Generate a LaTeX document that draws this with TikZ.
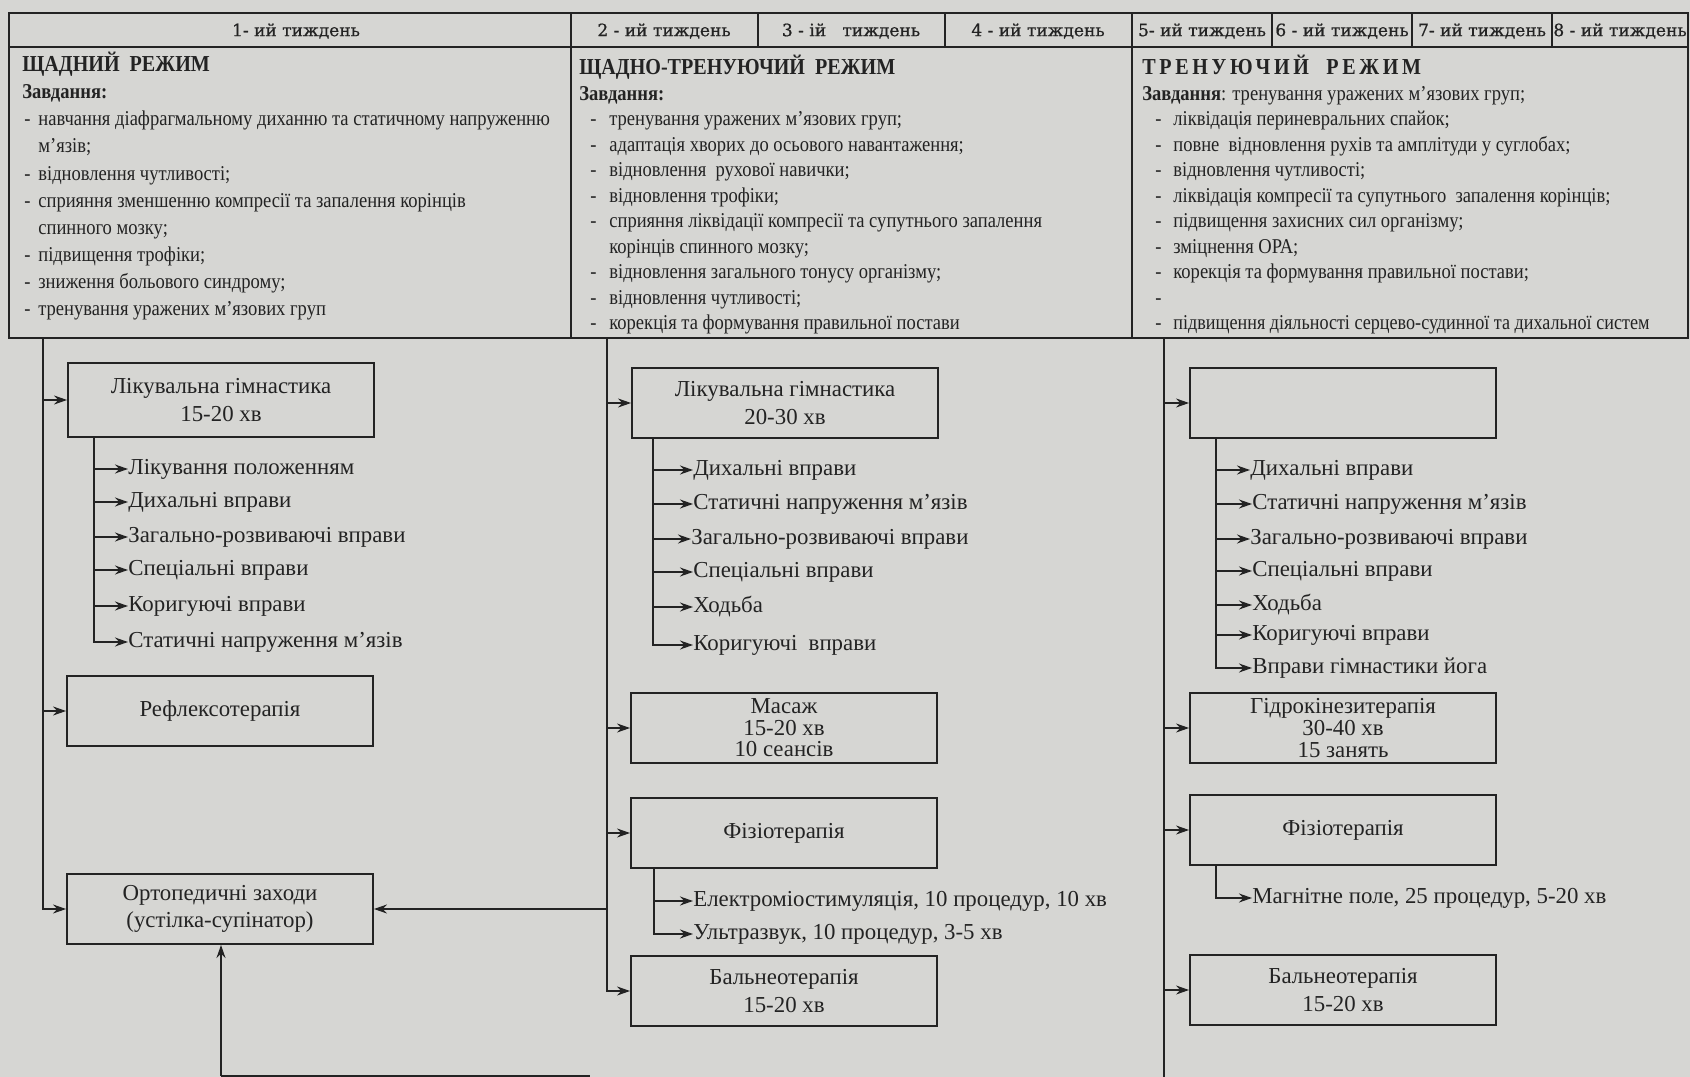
\documentclass[tikz,border=0pt]{standalone}
\usepackage{fontspec}
\setmainfont{Liberation Serif}
\newfontfamily\weekfont[FakeBold=0.8]{DejaVu Serif}
\newfontfamily\taskserif[FakeStretch=0.88]{Liberation Serif}
\usepackage{tikz}
\usetikzlibrary{arrows.meta}
\usetikzlibrary{positioning}

\definecolor{paper}{RGB}{214,214,211}
\definecolor{ink}{RGB}{35,35,35}

\newcommand{\procfont}{\fontsize{13}{16.4}\selectfont}
\newcommand{\tdash}[2]{\hspace*{#1}\makebox[#2][l]{-}}

\begin{document}
\begin{tikzpicture}[x=0.02cm, y=-0.02cm, color=ink,
    tableline/.style={line width=1.6pt},
    weekcell/.style={font=\weekfont\fontsize{9.7}{11}\selectfont, inner sep=0pt},
    tasktext/.style={anchor=north west, inner sep=0pt, align=left},
    procbox/.style={draw, line width=1.1pt, minimum width=6.12cm, minimum height=1.4cm,
                    align=center, font=\procfont},
    tightbox/.style={procbox, font=\fontsize{13}{12.3}\selectfont},
    itemnode/.style={anchor=west, inner sep=0pt, font=\procfont}]

	\fill[paper] (0,0) rectangle (1690,1077);
	\useasboundingbox (0,0) rectangle (1690,1077);

	% table frame
	\draw[tableline] (9,13) rectangle (1688,338);
	\draw[tableline] (9,47) -- (1688,47);
	\draw[tableline] (571,13) -- (571,338);
	\draw[tableline] (1132,13) -- (1132,338);
	\draw[line width=1.2pt] (758,13) -- (758,47);
	\draw[line width=1.2pt] (945,13) -- (945,47);
	\draw[line width=1.2pt] (1272,13) -- (1272,47);
	\draw[line width=1.2pt] (1412,13) -- (1412,47);
	\draw[line width=1.2pt] (1552,13) -- (1552,47);

	\begin{scope}[every node/.style={weekcell}]
		\node (wk1) at (296,31) {1- ий\ тиждень};
		\node (wk2) at (664,31) {2 - ий тиждень};
		\node (wk3) at (851,31) {3 - ій\ \ \ тиждень};
		\node (wk4) at (1038,31) {4 - ий тиждень};
		\node (wk5) at (1202,31) {5- ий тиждень};
		\node (wk6) at (1342,31) {6 - ий тиждень};
		\node (wk7) at (1482,31) {7- ий тиждень};
		\node (wk8) at (1620,31) {8 - ий тиждень};
	\end{scope}

	% tasks of the three regimes
	\node[tasktext, font=\taskserif\fontsize{12}{15.4}\selectfont] (task1) at (22,52) {%
		{\bfseries\fontsize{13}{15.4}\selectfont ЩАДНИЙ\ \ РЕЖИМ}\\
		\textbf{Завдання:}\\
		\tdash{0.04cm}{0.28cm}навчання діафрагмальному диханню та статичному напруженню\\
		\hspace*{0.32cm}м’язів;\\
		\tdash{0.04cm}{0.28cm}відновлення чутливості;\\
		\tdash{0.04cm}{0.28cm}сприяння зменшенню компресії та запалення корінців\\
		\hspace*{0.32cm}спинного мозку;\\
		\tdash{0.04cm}{0.28cm}підвищення трофіки;\\
		\tdash{0.04cm}{0.28cm}зниження больового синдрому;\\
		\tdash{0.04cm}{0.28cm}тренування уражених м’язових груп};

	\node[tasktext, font=\taskserif\fontsize{12}{14.5}\selectfont] (task2) at (579,55) {%
		{\bfseries\fontsize{13}{14.5}\selectfont ЩАДНО-ТРЕНУЮЧИЙ\ \ РЕЖИМ}\\
		\textbf{Завдання:}\\
		\tdash{0.22cm}{0.38cm}тренування уражених м’язових груп;\\
		\tdash{0.22cm}{0.38cm}адаптація хворих до осьового навантаження;\\
		\tdash{0.22cm}{0.38cm}відновлення\ \ рухової навички;\\
		\tdash{0.22cm}{0.38cm}відновлення трофіки;\\
		\tdash{0.22cm}{0.38cm}сприяння ліквідації компресії та супутнього запалення\\
		\hspace*{0.6cm}корінців спинного мозку;\\
		\tdash{0.22cm}{0.38cm}відновлення загального тонусу організму;\\
		\tdash{0.22cm}{0.38cm}відновлення чутливості;\\
		\tdash{0.22cm}{0.38cm}корекція та формування правильної постави};

	\node[tasktext, font=\taskserif\fontsize{12}{14.5}\selectfont] (task3) at (1142,55) {%
		{\bfseries\fontsize{13}{14.5}\selectfont\addfontfeature{LetterSpace=16}ТРЕНУЮЧИЙ\ \ РЕЖИМ}\\
		\textbf{Завдання}: тренування уражених м’язових груп;\\
		\tdash{0.26cm}{0.36cm}ліквідація периневральних спайок;\\
		\tdash{0.26cm}{0.36cm}повне\ \ відновлення рухів та амплітуди у суглобах;\\
		\tdash{0.26cm}{0.36cm}відновлення чутливості;\\
		\tdash{0.26cm}{0.36cm}ліквідація компресії та супутнього\ \ запалення корінців;\\
		\tdash{0.26cm}{0.36cm}підвищення захисних сил організму;\\
		\tdash{0.26cm}{0.36cm}зміцнення ОРА;\\
		\tdash{0.26cm}{0.36cm}корекція та формування правильної постави;\\
		\tdash{0.26cm}{0.36cm}\\
		\tdash{0.26cm}{0.36cm}{\addfontfeature{FakeStretch=0.86}підвищення діяльності серцево-судинної та дихальної систем}};

	% first week
	\coordinate (m1top) at (43,338);
	\node[procbox, minimum height=1.48cm] (lg1) at (221,400) {Лікувальна гімнастика\\15-20 хв};
	\coordinate (s1) at (94,437);
	\node[itemnode] (i11) at (128,469) {Лікування положенням};
	\node[itemnode] (i12) at (128,502) {Дихальні вправи};
	\node[itemnode] (i13) at (128,537) {Загально-розвиваючі вправи};
	\node[itemnode] (i14) at (128,570) {Спеціальні вправи};
	\node[itemnode] (i15) at (128,606) {Коригуючі вправи};
	\node[itemnode] (i16) at (128,642) {Статичні напруження м’язів};
	\node[procbox] (refl) at (220,711) {Рефлексотерапія};
	\node[procbox, font=\fontsize{13}{15.3}\selectfont] (orto) at (220,909) {Ортопедичні заходи\\(устілка-супінатор)};
	\coordinate (orbot) at (221,1076);

	% weeks 2-4
	\coordinate (m2top) at (607,338);
	\node[procbox] (lg2) at (785,403) {Лікувальна гімнастика\\20-30 хв};
	\coordinate (s2) at (653,438);
	\node[itemnode] (i21) at (693,470) {Дихальні вправи};
	\node[itemnode] (i22) at (693,504) {Статичні напруження м’язів};
	\node[itemnode] (i23) at (691,539) {Загально-розвиваючі вправи};
	\node[itemnode] (i24) at (693,572) {Спеціальні вправи};
	\node[itemnode] (i25) at (693,607) {Ходьба};
	\node[itemnode] (i26) at (693,645) {Коригуючі\ \ вправи};
	\node[tightbox] (mas2) at (784,728) {Масаж\\15-20 хв\\10 сеансів};
	\node[procbox] (fiz2) at (784,833) {Фізіотерапія};
	\coordinate (f2) at (654,868);
	\node[itemnode] (e21) at (693,901) {Електроміостимуляція, 10 процедур, 10 хв};
	\node[itemnode] (e22) at (693,934) {Ультразвук, 10 процедур, 3-5 хв};
	\node[procbox] (bal2) at (784,991) {Бальнеотерапія\\15-20 хв};

	% weeks 5-8
	\coordinate (m3top) at (1164,338);
	\coordinate (m3bot) at (1164,1077);
	\node[procbox] (lg3) at (1343,403) {};
	\coordinate (s3) at (1216,438);
	\node[itemnode] (i31) at (1250,470) {Дихальні вправи};
	\node[itemnode] (i32) at (1252,504) {Статичні напруження м’язів};
	\node[itemnode] (i33) at (1250,539) {Загально-розвиваючі вправи};
	\node[itemnode] (i34) at (1252,571) {Спеціальні вправи};
	\node[itemnode] (i35) at (1252,605) {Ходьба};
	\node[itemnode] (i36) at (1252,635) {Коригуючі вправи};
	\node[itemnode] (i37) at (1252,668) {Вправи гімнастики йога};
	\node[tightbox] (hyd3) at (1343,728) {Гідрокінезитерапія\\30-40 хв\\15 занять};
	\node[procbox] (fiz3) at (1343,830) {Фізіотерапія};
	\coordinate (f3) at (1216,865);
	\node[itemnode] (e31) at (1252,898) {Магнітне поле, 25 процедур, 5-20 хв};
	\node[procbox] (bal3) at (1343,990) {Бальнеотерапія\\15-20 хв};

	\begin{scope}[line width=0.8pt, >={Stealth[length=2.6mm,width=1.8mm]},
	              every edge/.style={draw=ink, ->}]
		\draw[->] (m1top) |- (orto);
		\path (m1top |- lg1) edge (lg1);
		\path (m1top |- refl) edge (refl);
		\draw[->] (s1) |- (i16);
		\path (s1 |- i11) edge (i11);
		\path (s1 |- i12) edge (i12);
		\path (s1 |- i13) edge (i13);
		\path (s1 |- i14) edge (i14);
		\path (s1 |- i15) edge (i15);
		\path (orbot) edge (orbot |- orto.south);
		\draw (orbot) -- (590,1076);

		\draw[->] (m2top) |- (bal2);
		\path (m2top |- lg2) edge (lg2);
		\path (m2top |- mas2) edge (mas2);
		\path (m2top |- fiz2) edge (fiz2);
		\path (m2top |- orto) edge (orto);
		\draw[->] (s2) |- (i26);
		\path (s2 |- i21) edge (i21);
		\path (s2 |- i22) edge (i22);
		\path (s2 |- i23) edge (i23);
		\path (s2 |- i24) edge (i24);
		\path (s2 |- i25) edge (i25);
		\draw[->] (f2) |- (e22);
		\path (f2 |- e21) edge (e21);

		\draw (m3top) -- (m3bot);
		\path (m3top |- lg3) edge (lg3);
		\path (m3top |- hyd3) edge (hyd3);
		\path (m3top |- fiz3) edge (fiz3);
		\path (m3top |- bal3) edge (bal3);
		\draw[->] (s3) |- (i37);
		\path (s3 |- i31) edge (i31);
		\path (s3 |- i32) edge (i32);
		\path (s3 |- i33) edge (i33);
		\path (s3 |- i34) edge (i34);
		\path (s3 |- i35) edge (i35);
		\path (s3 |- i36) edge (i36);
		\draw[->] (f3) |- (e31);
	\end{scope}
\end{tikzpicture}
\end{document}
